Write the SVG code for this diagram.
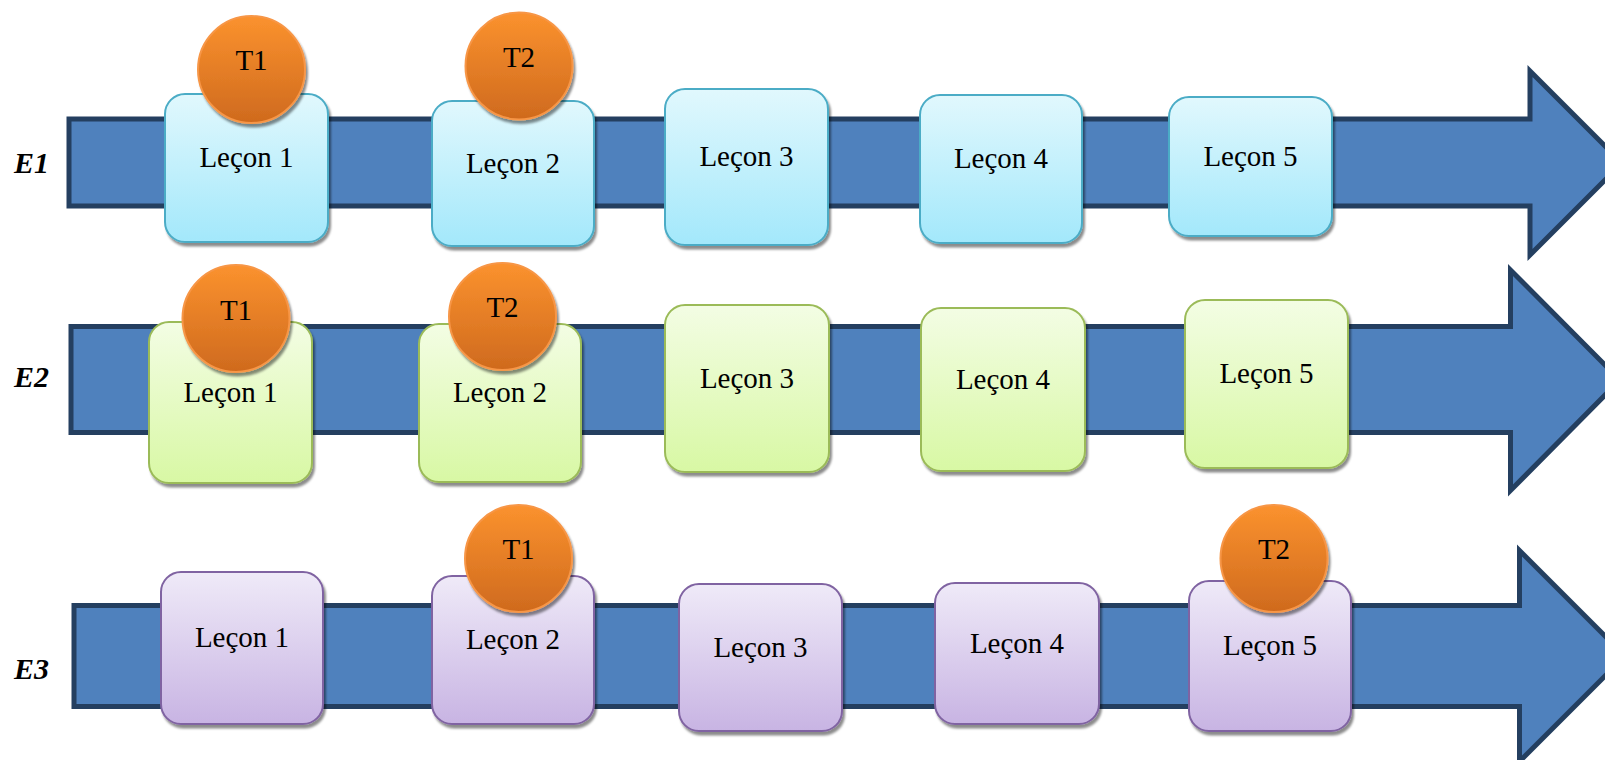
<svg xmlns="http://www.w3.org/2000/svg" width="1605" height="760" viewBox="0 0 1605 760">
<defs>
<linearGradient id="gBlue" x1="0" y1="0" x2="0" y2="1"><stop offset="0" stop-color="#E1F8FD"/><stop offset="1" stop-color="#A3E8FB"/></linearGradient>
<linearGradient id="gGreen" x1="0" y1="0" x2="0" y2="1"><stop offset="0" stop-color="#F3FDE4"/><stop offset="1" stop-color="#D8F8A4"/></linearGradient>
<linearGradient id="gPurple" x1="0" y1="0" x2="0" y2="1"><stop offset="0" stop-color="#EFEAF8"/><stop offset="1" stop-color="#C8B4E3"/></linearGradient>
<linearGradient id="gOrange" x1="0" y1="0" x2="0" y2="1"><stop offset="0" stop-color="#FB922E"/><stop offset="1" stop-color="#CF6A1E"/></linearGradient>
<filter id="sh" x="-10%" y="-10%" width="125%" height="130%"><feDropShadow dx="2" dy="3.5" stdDeviation="1.3" flood-color="#000" flood-opacity="0.45"/></filter>
<style>
.arrow{fill:#4F81BD;stroke:#243F60;stroke-width:5;stroke-linejoin:miter}
.box{stroke-width:2;filter:url(#sh)}
.blue{fill:url(#gBlue);stroke:#4BACC6}
.green{fill:url(#gGreen);stroke:#9BBB59}
.purple{fill:url(#gPurple);stroke:#8064A2}
.test{fill:url(#gOrange);stroke:#F79646;stroke-width:2;filter:url(#sh)}
.t{font-family:"Liberation Serif","Times New Roman",serif;font-size:29px;fill:#000;text-anchor:middle}
.lab{font-family:"Liberation Serif","Times New Roman",serif;font-size:30px;font-weight:bold;font-style:italic;fill:#000}
</style>
</defs>
<rect width="1605" height="760" fill="#fff"/>
<g id="lanes">
<polygon class="arrow" points="69,119 1530,119 1530,71 1622,163 1530,255 1530,206 69,206"/>
<polygon class="arrow" points="71,326.5 1510.5,326.5 1510.5,270 1620,380 1510.5,490.5 1510.5,432.5 71,432.5"/>
<polygon class="arrow" points="74,605.5 1519.5,605.5 1519.5,550.5 1625,656 1519.5,761.5 1519.5,706.5 74,706.5"/>
</g>
<g id="labels">
<text class="lab" x="14" y="173">E1</text>
<text class="lab" x="14" y="387">E2</text>
<text class="lab" x="14" y="679">E3</text>
</g>
<g id="connectors"></g>
<g id="e1-l1"><rect class="box blue" x="165" y="94" width="163" height="148" rx="20"/><text class="t" x="246.5" y="167">Leçon 1</text></g>
<g id="e1-l2"><rect class="box blue" x="432" y="101" width="162" height="145" rx="20"/><text class="t" x="513" y="172.5">Leçon 2</text></g>
<g id="e1-l3"><rect class="box blue" x="665" y="89" width="163" height="156" rx="20"/><text class="t" x="746.5" y="166">Leçon 3</text></g>
<g id="e1-l4"><rect class="box blue" x="920" y="95" width="162" height="148" rx="20"/><text class="t" x="1001" y="168">Leçon 4</text></g>
<g id="e1-l5"><rect class="box blue" x="1169" y="97" width="163" height="139" rx="20"/><text class="t" x="1250.5" y="165.5">Leçon 5</text></g>
<g id="e2-l1"><rect class="box green" x="149" y="322" width="163" height="161" rx="20"/><text class="t" x="230.5" y="401.5">Leçon 1</text></g>
<g id="e2-l2"><rect class="box green" x="419" y="324" width="162" height="158" rx="20"/><text class="t" x="500" y="402">Leçon 2</text></g>
<g id="e2-l3"><rect class="box green" x="665" y="305" width="164" height="167" rx="20"/><text class="t" x="747" y="387.5">Leçon 3</text></g>
<g id="e2-l4"><rect class="box green" x="921" y="308" width="164" height="163" rx="20"/><text class="t" x="1003" y="388.5">Leçon 4</text></g>
<g id="e2-l5"><rect class="box green" x="1185" y="300" width="163" height="168" rx="20"/><text class="t" x="1266.5" y="383">Leçon 5</text></g>
<g id="e3-l1"><rect class="box purple" x="161" y="572" width="162" height="152" rx="20"/><text class="t" x="242" y="647">Leçon 1</text></g>
<g id="e3-l2"><rect class="box purple" x="432" y="576" width="162" height="148" rx="20"/><text class="t" x="513" y="649">Leçon 2</text></g>
<g id="e3-l3"><rect class="box purple" x="679" y="584" width="163" height="147" rx="20"/><text class="t" x="760.5" y="656.5">Leçon 3</text></g>
<g id="e3-l4"><rect class="box purple" x="935" y="583" width="164" height="141" rx="20"/><text class="t" x="1017" y="652.5">Leçon 4</text></g>
<g id="e3-l5"><rect class="box purple" x="1189" y="581" width="162" height="150" rx="20"/><text class="t" x="1270" y="655">Leçon 5</text></g>
<g id="e1-t1"><circle class="test" cx="251.5" cy="69.5" r="53.5"/><text class="t" x="251.5" y="70">T1</text></g>
<g id="e1-t2"><circle class="test" cx="519" cy="66" r="53.5"/><text class="t" x="519" y="66.5">T2</text></g>
<g id="e2-t1"><circle class="test" cx="236" cy="318.5" r="53.5"/><text class="t" x="236" y="320">T1</text></g>
<g id="e2-t2"><circle class="test" cx="502.5" cy="316.5" r="53.5"/><text class="t" x="502.5" y="317">T2</text></g>
<g id="e3-t1"><circle class="test" cx="518.5" cy="558.5" r="53.5"/><text class="t" x="518.5" y="559">T1</text></g>
<g id="e3-t2"><circle class="test" cx="1274" cy="558.5" r="53.5"/><text class="t" x="1274" y="559">T2</text></g>
</svg>
